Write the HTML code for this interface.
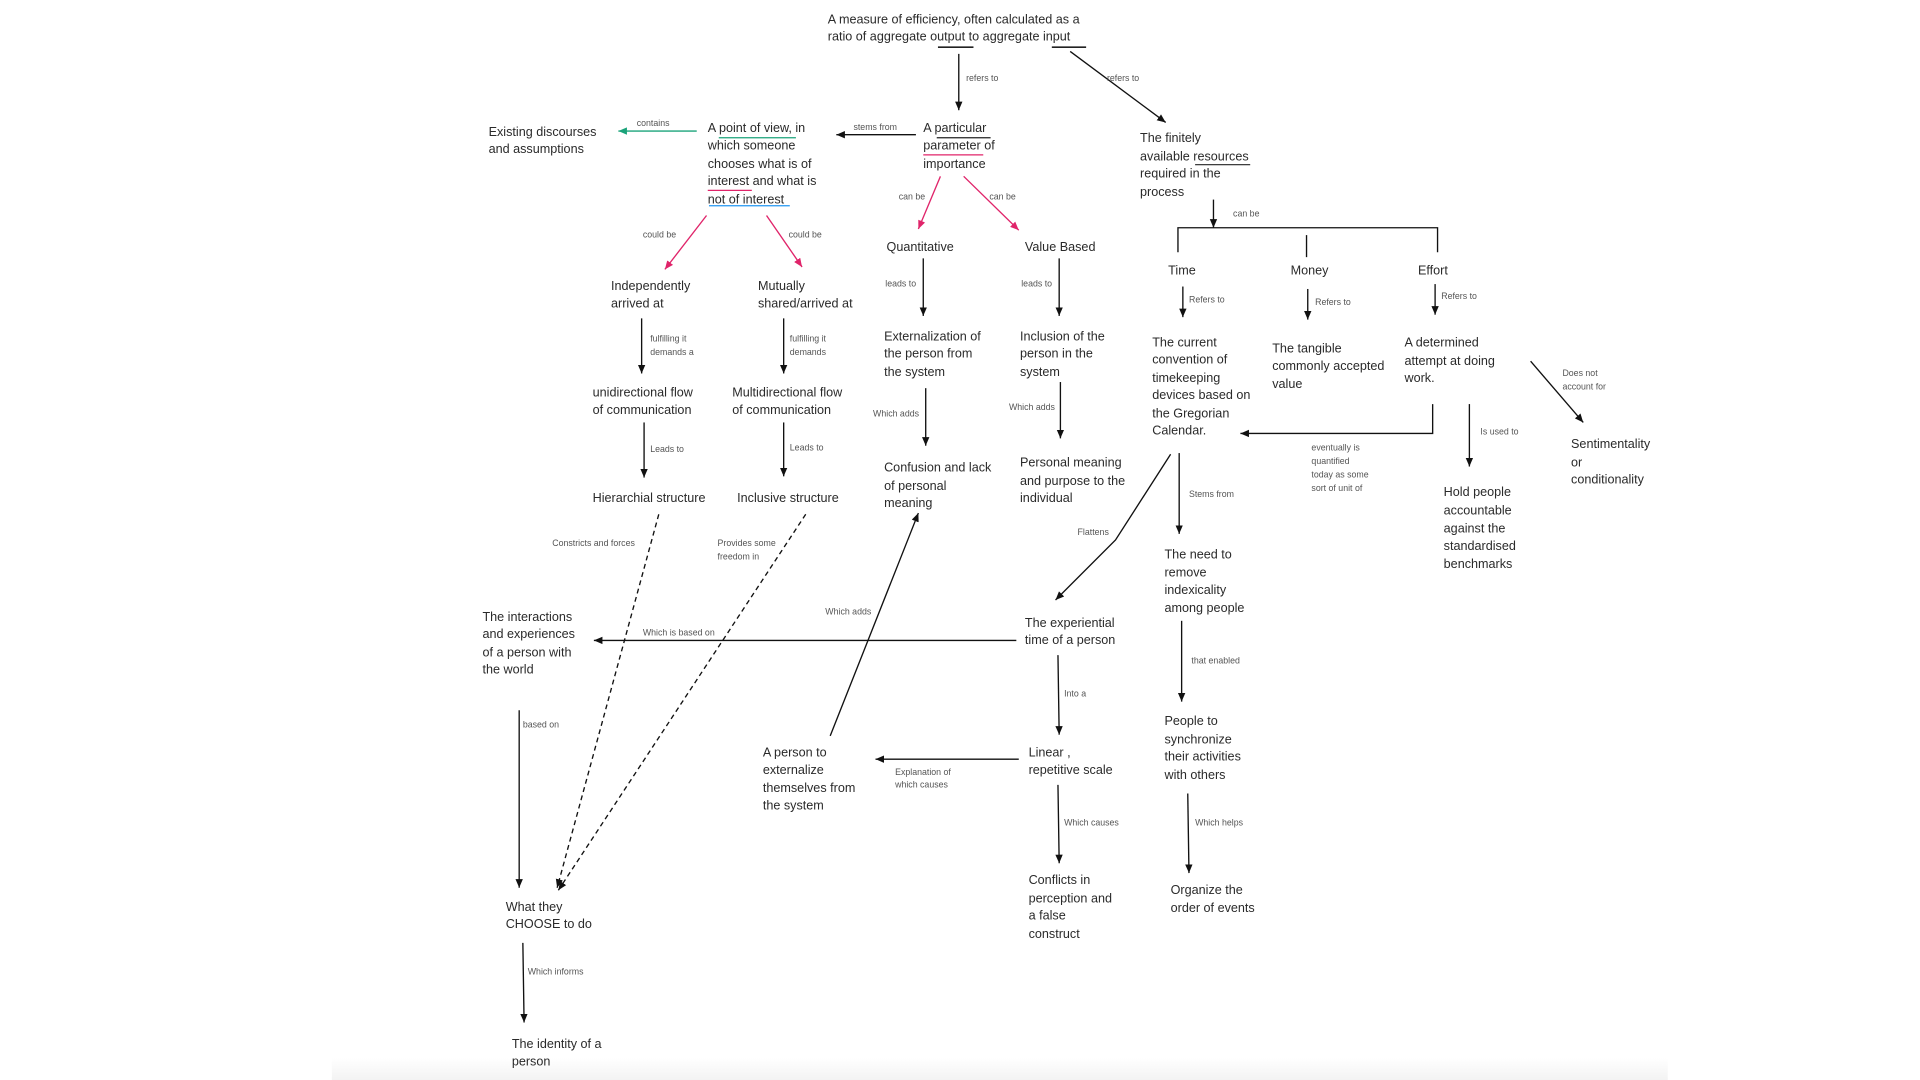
<!DOCTYPE html>
<html><head><meta charset="utf-8"><style>
html,body{margin:0;padding:0;background:#fff;width:1920px;height:1080px;overflow:hidden}
svg{display:block}
.t{font-family:"Liberation Sans",sans-serif;font-size:10.3px;fill:#2a2a2a}
.l{font-family:"Liberation Sans",sans-serif;font-size:7.2px;fill:#555}
.k{stroke:#111;stroke-width:1.1;fill:none}
.p{stroke:#e0246a;stroke-width:1.1;fill:none}
</style></head><body>
<svg width="1920" height="1080" viewBox="0 0 1568 882" preserveAspectRatio="none" xmlns="http://www.w3.org/2000/svg">
<defs>
<marker id="a" markerWidth="8" markerHeight="8" refX="7" refY="4" orient="auto" markerUnits="userSpaceOnUse"><path d="M0,1 L7,4 L0,7 Z" fill="#111"/></marker>
<marker id="ap" markerWidth="8" markerHeight="8" refX="7" refY="4" orient="auto" markerUnits="userSpaceOnUse"><path d="M0,1 L7,4 L0,7 Z" fill="#e0246a"/></marker>
<marker id="ag" markerWidth="8" markerHeight="8" refX="7" refY="4" orient="auto" markerUnits="userSpaceOnUse"><path d="M0,1 L7,4 L0,7 Z" fill="#1aa37a"/></marker>
<linearGradient id="g" x1="0" y1="0" x2="0" y2="1"><stop offset="0" stop-color="#fff"/><stop offset="1" stop-color="#f3f3f3"/></linearGradient>
</defs>
<rect x="271" y="864" width="1091" height="18" fill="url(#g)"/>

<!-- top -->
<text class="t" x="676" y="19">A measure of efficiency, often calculated as a</text>
<text class="t" x="676" y="33">ratio of aggregate output to aggregate input</text>
<line x1="766" y1="38.5" x2="795" y2="38.5" stroke="#222" stroke-width="1.3"/>
<line x1="859" y1="38.5" x2="887" y2="38.5" stroke="#222" stroke-width="1.3"/>
<line class="k" x1="783" y1="44" x2="783" y2="90" marker-end="url(#a)"/>
<text class="l" x="789" y="66">refers to</text>
<line class="k" x1="874" y1="42" x2="952" y2="100" marker-end="url(#a)"/>
<text class="l" x="904" y="66">refers to</text>

<!-- parameter -->
<text class="t" x="754" y="108">A particular</text>
<text class="t" x="754" y="122">parameter of</text>
<text class="t" x="754" y="137">importance</text>
<line x1="765" y1="112.5" x2="809" y2="112.5" stroke="#222" stroke-width="1"/>
<line x1="754" y1="126.5" x2="803" y2="126.5" stroke="#e0246a" stroke-width="1"/>
<line class="k" x1="748" y1="110" x2="683" y2="110" marker-end="url(#a)"/>
<text class="l" x="697" y="106">stems from</text>

<!-- point of view -->
<text class="t" x="578" y="108">A point of view, in</text>
<text class="t" x="578" y="122">which someone</text>
<text class="t" x="578" y="137">chooses what is of</text>
<text class="t" x="578" y="151">interest and what is</text>
<text class="t" x="578" y="166">not of interest</text>
<line x1="587" y1="112.5" x2="650" y2="112.5" stroke="#1aa37a" stroke-width="1"/>
<line x1="578" y1="155.5" x2="614" y2="155.5" stroke="#e0246a" stroke-width="1"/>
<line x1="579" y1="168" x2="645" y2="168" stroke="#2196f3" stroke-width="1"/>
<line x1="569" y1="107" x2="505" y2="107" stroke="#1aa37a" stroke-width="1.1" marker-end="url(#ag)"/>
<text class="l" x="520" y="103">contains</text>
<text class="t" x="399" y="111">Existing discourses</text>
<text class="t" x="399" y="125">and assumptions</text>

<!-- pink arrows -->
<line class="p" x1="768" y1="144" x2="750" y2="187" marker-end="url(#ap)"/>
<text class="l" x="734" y="163">can be</text>
<line class="p" x1="787" y1="144" x2="832" y2="188" marker-end="url(#ap)"/>
<text class="l" x="808" y="163">can be</text>
<line class="p" x1="577" y1="176" x2="543" y2="220" marker-end="url(#ap)"/>
<text class="l" x="525" y="194">could be</text>
<line class="p" x1="626" y1="176" x2="655" y2="218" marker-end="url(#ap)"/>
<text class="l" x="644" y="194">could be</text>

<!-- quantitative / value -->
<text class="t" x="724" y="205">Quantitative</text>
<text class="t" x="837" y="205">Value Based</text>
<line class="k" x1="754" y1="211" x2="754" y2="258" marker-end="url(#a)"/>
<text class="l" x="723" y="234">leads to</text>
<line class="k" x1="865" y1="211" x2="865" y2="258" marker-end="url(#a)"/>
<text class="l" x="834" y="234">leads to</text>
<text class="t" x="722" y="278">Externalization of</text>
<text class="t" x="722" y="292">the person from</text>
<text class="t" x="722" y="307">the system</text>
<text class="t" x="833" y="278">Inclusion of the</text>
<text class="t" x="833" y="292">person in the</text>
<text class="t" x="833" y="307">system</text>
<line class="k" x1="756" y1="317" x2="756" y2="364" marker-end="url(#a)"/>
<text class="l" x="713" y="340">Which adds</text>
<line class="k" x1="866" y1="312" x2="866" y2="358" marker-end="url(#a)"/>
<text class="l" x="824" y="335">Which adds</text>
<text class="t" x="722" y="385">Confusion and lack</text>
<text class="t" x="722" y="400">of personal</text>
<text class="t" x="722" y="414">meaning</text>
<text class="t" x="833" y="381">Personal meaning</text>
<text class="t" x="833" y="396">and purpose to the</text>
<text class="t" x="833" y="410">individual</text>

<!-- independent / mutual -->
<text class="t" x="499" y="237">Independently</text>
<text class="t" x="499" y="251">arrived at</text>
<text class="t" x="619" y="237">Mutually</text>
<text class="t" x="619" y="251">shared/arrived at</text>
<line class="k" x1="524" y1="260" x2="524" y2="305" marker-end="url(#a)"/>
<text class="l" x="531" y="279">fulfilling it</text>
<text class="l" x="531" y="290">demands a</text>
<line class="k" x1="640" y1="260" x2="640" y2="305" marker-end="url(#a)"/>
<text class="l" x="645" y="279">fulfilling it</text>
<text class="l" x="645" y="290">demands</text>
<text class="t" x="484" y="324">unidirectional flow</text>
<text class="t" x="484" y="338">of communication</text>
<text class="t" x="598" y="324">Multidirectional flow</text>
<text class="t" x="598" y="338">of communication</text>
<line class="k" x1="526" y1="345" x2="526" y2="390" marker-end="url(#a)"/>
<text class="l" x="531" y="369">Leads to</text>
<line class="k" x1="640" y1="345" x2="640" y2="389" marker-end="url(#a)"/>
<text class="l" x="645" y="368">Leads to</text>
<text class="t" x="484" y="410">Hierarchial structure</text>
<text class="t" x="602" y="410">Inclusive structure</text>
<line class="k" x1="538" y1="420" x2="455" y2="725" stroke-dasharray="4,3" marker-end="url(#a)"/>
<text class="l" x="451" y="446">Constricts and forces</text>
<line class="k" x1="658" y1="420" x2="456" y2="727" stroke-dasharray="4,3" marker-end="url(#a)"/>
<text class="l" x="586" y="446">Provides some</text>
<text class="l" x="586" y="457">freedom in</text>

<!-- left lower -->
<text class="t" x="394" y="507">The interactions</text>
<text class="t" x="394" y="521">and experiences</text>
<text class="t" x="394" y="536">of a person with</text>
<text class="t" x="394" y="550">the world</text>
<line class="k" x1="830" y1="523" x2="485" y2="523" marker-end="url(#a)"/>
<text class="l" x="525" y="519">Which is based on</text>
<line class="k" x1="424" y1="580" x2="424" y2="725" marker-end="url(#a)"/>
<text class="l" x="427" y="594">based on</text>
<text class="t" x="413" y="744">What they</text>
<text class="t" x="413" y="758">CHOOSE to do</text>
<line class="k" x1="427" y1="770" x2="428" y2="835" marker-end="url(#a)"/>
<text class="l" x="431" y="796">Which informs</text>
<text class="t" x="418" y="856">The identity of a</text>
<text class="t" x="418" y="870">person</text>

<!-- externalize -->
<line class="k" x1="678" y1="601" x2="750" y2="419" marker-end="url(#a)"/>
<text class="l" x="674" y="502">Which adds</text>
<text class="t" x="623" y="618">A person to</text>
<text class="t" x="623" y="632">externalize</text>
<text class="t" x="623" y="647">themselves from</text>
<text class="t" x="623" y="661">the system</text>
<line class="k" x1="832" y1="620" x2="715" y2="620" marker-end="url(#a)"/>
<text class="l" x="731" y="633">Explanation of</text>
<text class="l" x="731" y="643">which causes</text>

<!-- experiential -->
<text class="t" x="837" y="512">The experiential</text>
<text class="t" x="837" y="526">time of a person</text>
<line class="k" x1="864" y1="535" x2="865" y2="600" marker-end="url(#a)"/>
<text class="l" x="869" y="569">Into a</text>
<text class="t" x="840" y="618">Linear ,</text>
<text class="t" x="840" y="632">repetitive scale</text>
<line class="k" x1="864" y1="641" x2="865" y2="705" marker-end="url(#a)"/>
<text class="l" x="869" y="674">Which causes</text>
<text class="t" x="840" y="722">Conflicts in</text>
<text class="t" x="840" y="737">perception and</text>
<text class="t" x="840" y="751">a false</text>
<text class="t" x="840" y="766">construct</text>

<!-- right -->
<text class="t" x="931" y="116">The finitely</text>
<text class="t" x="931" y="131">available resources</text>
<text class="t" x="931" y="145">required in the</text>
<text class="t" x="931" y="160">process</text>
<line x1="976" y1="134.5" x2="1021" y2="134.5" stroke="#222" stroke-width="1"/>
<line class="k" x1="991" y1="163" x2="991" y2="186" marker-end="url(#a)"/>
<text class="l" x="1007" y="177">can be</text>
<polyline class="k" points="962,206 962,186 1174,186 1174,206"/>
<line class="k" x1="1067" y1="192" x2="1067" y2="210"/>
<text class="t" x="954" y="224">Time</text>
<text class="t" x="1054" y="224">Money</text>
<text class="t" x="1158" y="224">Effort</text>
<line class="k" x1="966" y1="234" x2="966" y2="259" marker-end="url(#a)"/>
<text class="l" x="971" y="247">Refers to</text>
<line class="k" x1="1068" y1="236" x2="1068" y2="261" marker-end="url(#a)"/>
<text class="l" x="1074" y="249">Refers to</text>
<line class="k" x1="1172" y1="232" x2="1172" y2="257" marker-end="url(#a)"/>
<text class="l" x="1177" y="244">Refers to</text>
<text class="t" x="941" y="283">The current</text>
<text class="t" x="941" y="297">convention of</text>
<text class="t" x="941" y="312">timekeeping</text>
<text class="t" x="941" y="326">devices based on</text>
<text class="t" x="941" y="341">the Gregorian</text>
<text class="t" x="941" y="355">Calendar.</text>
<text class="t" x="1039" y="288">The tangible</text>
<text class="t" x="1039" y="302">commonly accepted</text>
<text class="t" x="1039" y="317">value</text>
<text class="t" x="1147" y="283">A determined</text>
<text class="t" x="1147" y="298">attempt at doing</text>
<text class="t" x="1147" y="312">work.</text>
<polyline class="k" points="1170,330 1170,354 1013,354" marker-end="url(#a)"/>
<text class="l" x="1071" y="368">eventually is</text>
<text class="l" x="1071" y="379">quantified</text>
<text class="l" x="1071" y="390">today as some</text>
<text class="l" x="1071" y="401">sort of unit of</text>
<line class="k" x1="1200" y1="330" x2="1200" y2="381" marker-end="url(#a)"/>
<text class="l" x="1209" y="355">Is used to</text>
<text class="t" x="1179" y="405">Hold people</text>
<text class="t" x="1179" y="420">accountable</text>
<text class="t" x="1179" y="435">against the</text>
<text class="t" x="1179" y="449">standardised</text>
<text class="t" x="1179" y="464">benchmarks</text>
<line class="k" x1="1250" y1="295" x2="1293" y2="345" marker-end="url(#a)"/>
<text class="l" x="1276" y="307">Does not</text>
<text class="l" x="1276" y="318">account for</text>
<text class="t" x="1283" y="366">Sentimentality</text>
<text class="t" x="1283" y="381">or</text>
<text class="t" x="1283" y="395">conditionality</text>
<polyline class="k" points="956,371 911,441 862,490" marker-end="url(#a)"/>
<text class="l" x="880" y="437">Flattens</text>
<line class="k" x1="963" y1="370" x2="963" y2="436" marker-end="url(#a)"/>
<text class="l" x="971" y="406">Stems from</text>
<text class="t" x="951" y="456">The need to</text>
<text class="t" x="951" y="471">remove</text>
<text class="t" x="951" y="485">indexicality</text>
<text class="t" x="951" y="500">among people</text>
<line class="k" x1="965" y1="507" x2="965" y2="573" marker-end="url(#a)"/>
<text class="l" x="973" y="542">that enabled</text>
<text class="t" x="951" y="592">People to</text>
<text class="t" x="951" y="607">synchronize</text>
<text class="t" x="951" y="621">their activities</text>
<text class="t" x="951" y="636">with others</text>
<line class="k" x1="970" y1="648" x2="971" y2="713" marker-end="url(#a)"/>
<text class="l" x="976" y="674">Which helps</text>
<text class="t" x="956" y="730">Organize the</text>
<text class="t" x="956" y="745">order of events</text>
</svg>
</body></html>
